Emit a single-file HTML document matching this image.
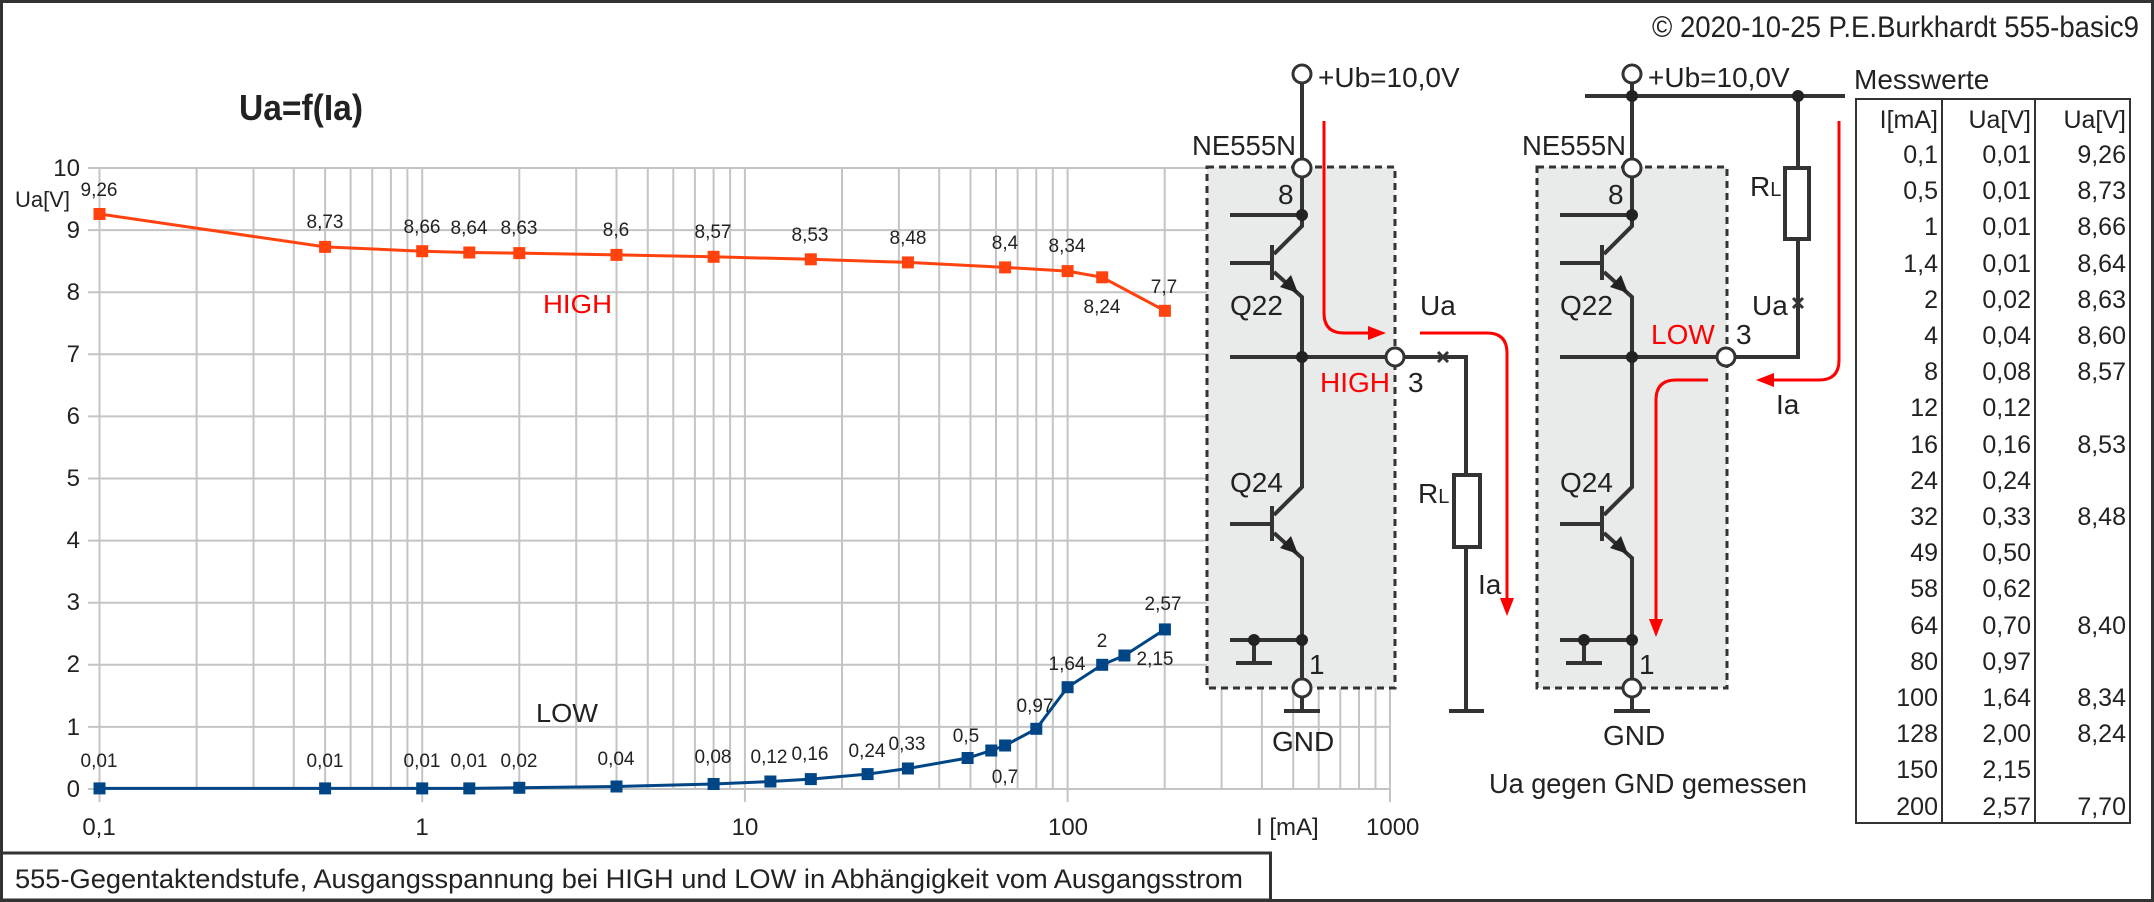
<!DOCTYPE html>
<html><head><meta charset="utf-8"><style>
html,body{margin:0;padding:0;background:#fff}
svg{display:block}
text{font-family:"Liberation Sans Narrow","Liberation Sans",sans-serif;fill:#222}
.t{font-family:"Liberation Sans",sans-serif}
</style></head><body>
<svg width="2154" height="902" viewBox="0 0 2154 902" xmlns="http://www.w3.org/2000/svg">
<rect x="0" y="0" width="2154" height="902" fill="#fff"/>
<!-- grid -->
<g stroke="#c4c4c4" stroke-width="2">
<line x1="88" y1="168" x2="1390" y2="168"/><line x1="88" y1="230.1" x2="1390" y2="230.1"/>
<line x1="88" y1="292.2" x2="1390" y2="292.2"/><line x1="88" y1="354.3" x2="1390" y2="354.3"/>
<line x1="88" y1="416.4" x2="1390" y2="416.4"/><line x1="88" y1="478.5" x2="1390" y2="478.5"/>
<line x1="88" y1="540.6" x2="1390" y2="540.6"/><line x1="88" y1="602.7" x2="1390" y2="602.7"/>
<line x1="88" y1="664.8" x2="1390" y2="664.8"/><line x1="88" y1="726.9" x2="1390" y2="726.9"/>
<line x1="88" y1="789" x2="1390" y2="789"/>
<line x1="99.5" y1="168" x2="99.5" y2="802"/><line x1="422.2" y1="168" x2="422.2" y2="802"/>
<line x1="744.9" y1="168" x2="744.9" y2="802"/><line x1="1067.6" y1="168" x2="1067.6" y2="802"/>
<line x1="1390" y1="168" x2="1390" y2="802"/>
<g>
<line x1="196.6" y1="168" x2="196.6" y2="789"/><line x1="253.5" y1="168" x2="253.5" y2="789"/><line x1="293.8" y1="168" x2="293.8" y2="789"/><line x1="325.1" y1="168" x2="325.1" y2="789"/><line x1="350.6" y1="168" x2="350.6" y2="789"/><line x1="372.2" y1="168" x2="372.2" y2="789"/><line x1="390.9" y1="168" x2="390.9" y2="789"/><line x1="407.4" y1="168" x2="407.4" y2="789"/>
<line x1="519.3" y1="168" x2="519.3" y2="789"/><line x1="576.2" y1="168" x2="576.2" y2="789"/><line x1="616.5" y1="168" x2="616.5" y2="789"/><line x1="647.8" y1="168" x2="647.8" y2="789"/><line x1="673.3" y1="168" x2="673.3" y2="789"/><line x1="694.9" y1="168" x2="694.9" y2="789"/><line x1="713.6" y1="168" x2="713.6" y2="789"/><line x1="730.1" y1="168" x2="730.1" y2="789"/>
<line x1="842" y1="168" x2="842" y2="789"/><line x1="898.9" y1="168" x2="898.9" y2="789"/><line x1="939.2" y1="168" x2="939.2" y2="789"/><line x1="970.5" y1="168" x2="970.5" y2="789"/><line x1="996" y1="168" x2="996" y2="789"/><line x1="1017.6" y1="168" x2="1017.6" y2="789"/><line x1="1036.3" y1="168" x2="1036.3" y2="789"/><line x1="1052.8" y1="168" x2="1052.8" y2="789"/>
<line x1="1164.7" y1="168" x2="1164.7" y2="789"/><line x1="1221.6" y1="168" x2="1221.6" y2="789"/><line x1="1261.9" y1="168" x2="1261.9" y2="789"/><line x1="1293.2" y1="168" x2="1293.2" y2="789"/><line x1="1318.7" y1="168" x2="1318.7" y2="789"/><line x1="1340.3" y1="168" x2="1340.3" y2="789"/><line x1="1359" y1="168" x2="1359" y2="789"/><line x1="1375.5" y1="168" x2="1375.5" y2="789"/>
</g></g>
<!-- axis labels -->
<g font-size="24" text-anchor="end">
<text x="80" y="176">10</text><text x="80" y="238">9</text><text x="80" y="300">8</text><text x="80" y="362">7</text><text x="80" y="424">6</text><text x="80" y="486">5</text><text x="80" y="548">4</text><text x="80" y="610">3</text><text x="80" y="672">2</text><text x="80" y="735">1</text><text x="80" y="797">0</text>
</g>
<g font-size="24" text-anchor="middle">
<text x="99" y="835">0,1</text><text x="422" y="835">1</text><text x="745" y="835">10</text><text x="1068" y="835">100</text>
</g>
<text x="1256" y="835" font-size="24">I [mA]</text><text x="1366" y="835" font-size="24">1000</text>
<text x="15" y="207" font-size="22">Ua[V]</text>
<text x="239" y="120" font-size="36" font-weight="bold" textLength="124" lengthAdjust="spacingAndGlyphs">Ua=f(Ia)</text>
<text x="543" y="313" font-size="26" fill="#f00" style="fill:#f00" textLength="69" lengthAdjust="spacingAndGlyphs">HIGH</text>
<text x="536" y="722" font-size="26" textLength="62" lengthAdjust="spacingAndGlyphs">LOW</text>
<!-- HIGH series -->
<polyline fill="none" stroke="#ff420e" stroke-width="3" points="99.5,214 325.1,246.9 422.2,251.2 469.3,252.5 519.3,253.1 616.5,254.9 713.6,256.8 810.8,259.3 907.9,262.4 1005.1,267.4 1067.6,271.1 1102.2,277.3 1164.9,310.8"/>
<g fill="#ff420e">
<rect x="93.5" y="208" width="12" height="12"/><rect x="319.1" y="240.9" width="12" height="12"/><rect x="416.2" y="245.2" width="12" height="12"/><rect x="463.3" y="246.5" width="12" height="12"/><rect x="513.3" y="247.1" width="12" height="12"/><rect x="610.5" y="248.9" width="12" height="12"/><rect x="707.6" y="250.8" width="12" height="12"/><rect x="804.8" y="253.3" width="12" height="12"/><rect x="901.9" y="256.4" width="12" height="12"/><rect x="999.1" y="261.4" width="12" height="12"/><rect x="1061.6" y="265.1" width="12" height="12"/><rect x="1096.2" y="271.3" width="12" height="12"/><rect x="1158.9" y="304.8" width="12" height="12"/>
</g>
<g font-size="19" text-anchor="middle">
<text x="99" y="196">9,26</text><text x="325" y="228">8,73</text><text x="422" y="233">8,66</text><text x="469" y="234">8,64</text><text x="519" y="234">8,63</text><text x="616" y="236">8,6</text><text x="713" y="238">8,57</text><text x="810" y="241">8,53</text><text x="908" y="244">8,48</text><text x="1005" y="249">8,4</text><text x="1067" y="252">8,34</text><text x="1102" y="313">8,24</text><text x="1164" y="293">7,7</text>
</g>
<!-- LOW series -->
<polyline fill="none" stroke="#004586" stroke-width="3" points="99.5,788.4 325.1,788.4 422.2,788.4 469.3,788.4 519.3,787.8 616.5,786.5 713.6,784 770.4,781.5 810.8,779.1 867.6,774.1 907.9,768.5 967.6,758 991.3,750.5 1005.1,745.5 1036.3,728.8 1067.6,687.2 1102.2,664.8 1124.4,655.5 1164.9,629.4"/>
<g fill="#004586">
<rect x="93.5" y="782.4" width="12" height="12"/><rect x="319.1" y="782.4" width="12" height="12"/><rect x="416.2" y="782.4" width="12" height="12"/><rect x="463.3" y="782.4" width="12" height="12"/><rect x="513.3" y="781.8" width="12" height="12"/><rect x="610.5" y="780.5" width="12" height="12"/><rect x="707.6" y="778" width="12" height="12"/><rect x="764.4" y="775.5" width="12" height="12"/><rect x="804.8" y="773.1" width="12" height="12"/><rect x="861.6" y="768.1" width="12" height="12"/><rect x="901.9" y="762.5" width="12" height="12"/><rect x="961.6" y="752" width="12" height="12"/><rect x="985.3" y="744.5" width="12" height="12"/><rect x="999.1" y="739.5" width="12" height="12"/><rect x="1030.3" y="722.8" width="12" height="12"/><rect x="1061.6" y="681.2" width="12" height="12"/><rect x="1096.2" y="658.8" width="12" height="12"/><rect x="1118.4" y="649.5" width="12" height="12"/><rect x="1158.9" y="623.4" width="12" height="12"/>
</g>
<g font-size="19" text-anchor="middle">
<text x="99" y="767">0,01</text><text x="325" y="767">0,01</text><text x="422" y="767">0,01</text><text x="469" y="767">0,01</text><text x="519" y="767">0,02</text><text x="616" y="765">0,04</text><text x="713" y="763">0,08</text><text x="769" y="763">0,12</text><text x="810" y="760">0,16</text><text x="867" y="757">0,24</text><text x="907" y="750">0,33</text><text x="966" y="742">0,5</text><text x="1005" y="783">0,7</text><text x="1035" y="712">0,97</text><text x="1067" y="670">1,64</text><text x="1102" y="647">2</text><text x="1155" y="665">2,15</text><text x="1163" y="610">2,57</text>
</g>
<!-- IC boxes -->
<rect x="1207" y="167" width="188" height="521" fill="#e9eaea" stroke="#333" stroke-width="3" stroke-dasharray="7,5"/>
<rect x="1537" y="167" width="190" height="521" fill="#e9eaea" stroke="#333" stroke-width="3" stroke-dasharray="7,5"/>
<!-- circuit 1 -->
<g stroke="#333" stroke-width="4" fill="none">
<line x1="1302" y1="83" x2="1302" y2="159"/>
<polyline points="1302,177 1302,226 1274,254"/>
<polyline points="1274,272 1302,297 1302,487 1274,515"/>
<polyline points="1274,533 1302,558 1302,679"/>
<line x1="1272" y1="245" x2="1272" y2="280"/><line x1="1272" y1="506" x2="1272" y2="541"/>
<line x1="1230" y1="263" x2="1272" y2="263"/><line x1="1230" y1="524" x2="1272" y2="524"/>
<line x1="1230" y1="215" x2="1302" y2="215"/>
<line x1="1230" y1="357" x2="1386" y2="357"/>
<polyline points="1404,357 1466,357 1466,475"/>
<line x1="1466" y1="547" x2="1466" y2="711"/><line x1="1449" y1="711" x2="1484" y2="711"/>
<line x1="1230" y1="640" x2="1302" y2="640"/><polyline points="1254,640 1254,663"/><line x1="1236" y1="663" x2="1272" y2="663"/>
<line x1="1302" y1="697" x2="1302" y2="711"/><line x1="1284" y1="711" x2="1320" y2="711"/>
<rect x="1454" y="475" width="26" height="72" fill="#fff"/>
<path d="M1438,352 l10,10 M1448,352 l-10,10" stroke-width="3"/>
</g>
<g fill="#222">
<circle cx="1302" cy="215" r="6"/><circle cx="1302" cy="357" r="6"/><circle cx="1302" cy="640" r="6"/><circle cx="1254" cy="640" r="6"/>
<polygon points="1298,293 1280,287 1291,275"/><polygon points="1298,554 1280,548 1291,536"/>
</g>
<g fill="#fff" stroke="#333" stroke-width="3">
<circle cx="1302" cy="74" r="9"/><circle cx="1302" cy="168" r="9"/><circle cx="1395" cy="357" r="9"/><circle cx="1302" cy="688" r="9"/>
</g>
<g font-size="28">
<text x="1318" y="87">+Ub=10,0V</text>
<text x="1192" y="155" textLength="104" lengthAdjust="spacingAndGlyphs">NE555N</text>
<text x="1278" y="204">8</text><text x="1230" y="315">Q22</text><text x="1230" y="492">Q24</text>
<text x="1320" y="392" style="fill:#f00">HIGH</text><text x="1408" y="392">3</text>
<text x="1420" y="315">Ua</text><text x="1418" y="503">R<tspan font-size="20">L</tspan></text>
<text x="1478" y="594">Ia</text><text x="1309" y="674">1</text><text x="1272" y="751">GND</text>
</g>
<!-- circuit 2 -->
<g stroke="#333" stroke-width="4" fill="none">
<line x1="1632" y1="83" x2="1632" y2="159"/>
<line x1="1585" y1="96" x2="1845" y2="96"/>
<polyline points="1632,177 1632,226 1604,254"/>
<polyline points="1604,272 1632,297 1632,487 1604,515"/>
<polyline points="1604,533 1632,558 1632,679"/>
<line x1="1602" y1="245" x2="1602" y2="280"/><line x1="1602" y1="506" x2="1602" y2="541"/>
<line x1="1560" y1="263" x2="1602" y2="263"/><line x1="1560" y1="524" x2="1602" y2="524"/>
<line x1="1560" y1="215" x2="1632" y2="215"/>
<line x1="1560" y1="357" x2="1717" y2="357"/>
<polyline points="1735,357 1798,357 1798,239"/>
<line x1="1798" y1="96" x2="1798" y2="168"/>
<rect x="1785" y="168" width="24" height="71" fill="#fff"/>
<line x1="1560" y1="640" x2="1632" y2="640"/><polyline points="1584,640 1584,663"/><line x1="1566" y1="663" x2="1602" y2="663"/>
<line x1="1632" y1="697" x2="1632" y2="711"/><line x1="1614" y1="711" x2="1650" y2="711"/>
<path d="M1793,298 l10,10 M1803,298 l-10,10" stroke-width="3"/>
</g>
<g fill="#222">
<circle cx="1632" cy="96" r="6"/><circle cx="1798" cy="96" r="6"/>
<circle cx="1632" cy="215" r="6"/><circle cx="1632" cy="357" r="6"/><circle cx="1632" cy="640" r="6"/><circle cx="1584" cy="640" r="6"/>
<polygon points="1628,293 1610,287 1621,275"/><polygon points="1628,554 1610,548 1621,536"/>
</g>
<g fill="#fff" stroke="#333" stroke-width="3">
<circle cx="1632" cy="74" r="9"/><circle cx="1632" cy="168" r="9"/><circle cx="1726" cy="357" r="9"/><circle cx="1632" cy="688" r="9"/>
</g>
<g font-size="28">
<text x="1648" y="87">+Ub=10,0V</text>
<text x="1522" y="155" textLength="104" lengthAdjust="spacingAndGlyphs">NE555N</text>
<text x="1608" y="204">8</text><text x="1560" y="315">Q22</text><text x="1560" y="492">Q24</text>
<text x="1651" y="344" style="fill:#f00">LOW</text><text x="1736" y="344">3</text>
<text x="1752" y="315">Ua</text><text x="1750" y="196">R<tspan font-size="20">L</tspan></text>
<text x="1776" y="414">Ia</text><text x="1639" y="674">1</text><text x="1603" y="745">GND</text>
<text x="1489" y="793" textLength="318" lengthAdjust="spacingAndGlyphs">Ua gegen GND gemessen</text>
</g>
<!-- red arrows -->
<g stroke="#f00" stroke-width="3" fill="none">
<path d="M1324,121 V313 Q1324,333 1344,333 H1372"/>
<path d="M1420,333 H1487 Q1507,333 1507,353 V600"/>
<path d="M1839,121 V360 Q1839,380 1819,380 H1772"/>
<path d="M1708,380 H1676 Q1656,380 1656,400 V620"/>
</g>
<g fill="#f00">
<polygon points="1386,333 1368,326 1368,340"/>
<polygon points="1507,616 1500,598 1514,598"/>
<polygon points="1756,380 1774,373 1774,387"/>
<polygon points="1656,637 1649,619 1663,619"/>
</g>
<!-- table -->
<text x="1854" y="89" font-size="28">Messwerte</text>
<g stroke="#333" stroke-width="2" fill="none">
<rect x="1856" y="99" width="274" height="724"/>
<line x1="1942" y1="99" x2="1942" y2="823"/><line x1="2035" y1="99" x2="2035" y2="823"/>
</g>
<g class="t" font-size="25" text-anchor="end" style="font-family:'Liberation Sans',sans-serif">
<text x="1938" y="128">I[mA]</text><text x="2031" y="128">Ua[V]</text><text x="2126" y="128">Ua[V]</text>
<text x="1938" y="163">0,1</text><text x="2031" y="163">0,01</text><text x="2126" y="163">9,26</text>
<text x="1938" y="199">0,5</text><text x="2031" y="199">0,01</text><text x="2126" y="199">8,73</text>
<text x="1938" y="235">1</text><text x="2031" y="235">0,01</text><text x="2126" y="235">8,66</text>
<text x="1938" y="272">1,4</text><text x="2031" y="272">0,01</text><text x="2126" y="272">8,64</text>
<text x="1938" y="308">2</text><text x="2031" y="308">0,02</text><text x="2126" y="308">8,63</text>
<text x="1938" y="344">4</text><text x="2031" y="344">0,04</text><text x="2126" y="344">8,60</text>
<text x="1938" y="380">8</text><text x="2031" y="380">0,08</text><text x="2126" y="380">8,57</text>
<text x="1938" y="416">12</text><text x="2031" y="416">0,12</text>
<text x="1938" y="453">16</text><text x="2031" y="453">0,16</text><text x="2126" y="453">8,53</text>
<text x="1938" y="489">24</text><text x="2031" y="489">0,24</text>
<text x="1938" y="525">32</text><text x="2031" y="525">0,33</text><text x="2126" y="525">8,48</text>
<text x="1938" y="561">49</text><text x="2031" y="561">0,50</text>
<text x="1938" y="597">58</text><text x="2031" y="597">0,62</text>
<text x="1938" y="634">64</text><text x="2031" y="634">0,70</text><text x="2126" y="634">8,40</text>
<text x="1938" y="670">80</text><text x="2031" y="670">0,97</text>
<text x="1938" y="706">100</text><text x="2031" y="706">1,64</text><text x="2126" y="706">8,34</text>
<text x="1938" y="742">128</text><text x="2031" y="742">2,00</text><text x="2126" y="742">8,24</text>
<text x="1938" y="778">150</text><text x="2031" y="778">2,15</text>
<text x="1938" y="815">200</text><text x="2031" y="815">2,57</text><text x="2126" y="815">7,70</text>
</g>
<!-- copyright -->
<text x="2139" y="37" font-size="30" text-anchor="end" textLength="487" lengthAdjust="spacingAndGlyphs">© 2020-10-25 P.E.Burkhardt 555-basic9</text>
<!-- caption -->
<rect x="1.5" y="853" width="1269" height="47" fill="#fff" stroke="#333" stroke-width="3"/>
<text x="15" y="888" font-size="27" textLength="1228" lengthAdjust="spacingAndGlyphs">555-Gegentaktendstufe, Ausgangsspannung bei HIGH und LOW in Abhängigkeit vom Ausgangsstrom</text>
<!-- frame -->
<rect x="1.5" y="1.5" width="2151" height="899" fill="none" stroke="#333" stroke-width="3"/>
</svg>
</body></html>
